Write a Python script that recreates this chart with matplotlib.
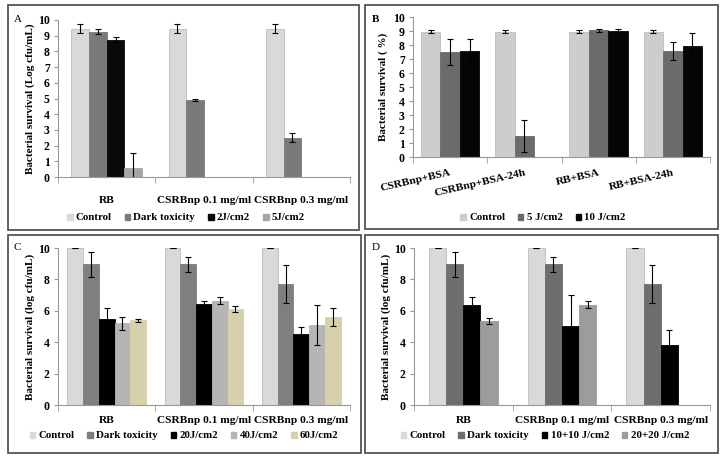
import numpy as np
import matplotlib
matplotlib.use('Agg')
import matplotlib.pyplot as plt
from matplotlib.patches import Patch, Rectangle

plt.rcParams['font.family'] = ['Liberation Serif', 'DejaVu Serif']
plt.rcParams['font.weight'] = 'bold'
plt.rcParams['axes.labelweight'] = 'bold'

nan = np.nan

# Panel A
a_groups = ['RB', 'CSRBnp 0.1 mg/ml', 'CSRBnp 0.3 mg/ml']
a_names = ['Control', 'Dark toxicity', '2J/cm2', '5J/cm2']
a_control = [9.45, 9.45, 9.45]
a_control_err = [0.3, 0.3, 0.3]
a_dark = [9.25, 4.9, 2.5]
a_dark_err = [0.15, 0.08, 0.3]
a_2j = [8.75, 0, 0]
a_2j_err = [0.15, nan, nan]
a_5j = [0.55, 0, 0]
a_5j_err = [0.95, nan, nan]

# Panel B
b_groups = ['CSRBnp+BSA', 'CSRBnp+BSA-24h', 'RB+BSA', 'RB+BSA-24h']
b_names = ['Control', '5 J/cm2', '10 J/cm2']
b_control = [8.95, 8.95, 8.95, 8.95]
b_control_err = [0.1, 0.1, 0.1, 0.1]
b_5j = [7.5, 1.5, 9.05, 7.6]
b_5j_err = [0.9, 1.15, 0.12, 0.65]
b_10j = [7.6, 0, 9.0, 7.9]
b_10j_err = [0.8, nan, 0.12, 0.95]

# Panel C
c_groups = ['RB', 'CSRBnp 0.1 mg/ml', 'CSRBnp 0.3 mg/ml']
c_names = ['Control', 'Dark toxicity', '20J/cm2', '40J/cm2', '60J/cm2']
c_control = [10, 10, 10]
c_control_err = [0.02, 0.02, 0.02]
c_dark = [8.95, 8.95, 7.7]
c_dark_err = [0.8, 0.45, 1.2]
c_20j = [5.5, 6.45, 4.5]
c_20j_err = [0.7, 0.15, 0.5]
c_40j = [5.2, 6.65, 5.1]
c_40j_err = [0.4, 0.2, 1.3]
c_60j = [5.4, 6.1, 5.6]
c_60j_err = [0.1, 0.2, 0.55]

# Panel D
d_groups = ['RB', 'CSRBnp 0.1 mg/ml', 'CSRBnp 0.3 mg/ml']
d_names = ['Control', 'Dark toxicity', '10+10 J/cm2', '20+20 J/cm2']
d_control = [10, 10, 10]
d_control_err = [0.02, 0.02, 0.02]
d_dark = [8.95, 8.95, 7.7]
d_dark_err = [0.8, 0.45, 1.2]
d_1010 = [6.4, 5.05, 3.8]
d_1010_err = [0.5, 1.95, 0.95]
d_2020 = [5.35, 6.4, 0]
d_2020_err = [0.2, 0.25, nan]

W, H = 726, 466
fig = plt.figure(figsize=(W / 100, H / 100), dpi=100)


def px(l, t, r, b):
    return [l / W, 1 - b / H, (r - l) / W, (b - t) / H]


def panel(rect, groups, series, errs, names, colors, gap, ymax, ystep, ylabel,
          letter, letter_xy, leg_xy, rot=0, xpad=14):
    ax = fig.add_axes(px(*rect))
    n = len(series)
    w = 1 / (n + gap)
    x = np.arange(len(groups))
    for k in range(n):
        pos = x + w * gap / 2 + w * (k + 0.5)
        ec = '#bdbdbd' if colors[k] in ('#d9d9d9', '#cdcdcd') else colors[k]
        ax.bar(pos, series[k], w, color=colors[k], edgecolor=ec, linewidth=0.6, zorder=2)
        ax.errorbar(pos, series[k], yerr=errs[k], fmt='none', ecolor='black',
                    elinewidth=0.8, capsize=2, capthick=0.8, zorder=3)
    ax.set_xlim(0, len(groups))
    ax.set_ylim(0, ymax)
    ax.set_yticks(np.arange(0, ymax + 0.01, ystep))
    ax.set_xticks(x + 0.5)
    ax.set_xticks(np.arange(len(groups) + 1), minor=True)
    if rot:
        ax.set_xticklabels(groups, fontsize=8.2, fontweight='bold', rotation=rot,
                           ha='right', rotation_mode='anchor')
    else:
        ax.set_xticklabels(groups, fontsize=8.2, fontweight='bold')
    for t in ax.get_yticklabels():
        t.set_fontweight('bold')
    ax.tick_params(axis='x', which='major', length=0, pad=xpad)
    ax.tick_params(axis='x', which='minor', length=4, color='#999999')
    ax.tick_params(axis='y', length=3, color='#999999', labelsize=8.5, pad=3)
    for s in ['top', 'right']:
        ax.spines[s].set_visible(False)
    for s in ['left', 'bottom']:
        ax.spines[s].set_color('#999999')
    ax.set_ylabel(ylabel, fontsize=8, fontweight='bold')
    handles = [Patch(facecolor=c, edgecolor=c) for c in colors]
    fig.legend(handles, names, loc='center', bbox_to_anchor=(leg_xy[0] / W, 1 - leg_xy[1] / H),
               ncol=len(names), frameon=False, prop={'size': 7.8, 'weight': 'bold'},
               handlelength=0.5, handleheight=0.5, handletextpad=0.3, columnspacing=1.2)
    fig.text(letter_xy[0] / W, 1 - letter_xy[1] / H, letter, fontsize=8,
             fontweight='normal' if letter in 'ACD' else 'bold', ha='center', va='center')
    return ax


axA = panel((58, 20, 350, 177), a_groups, [a_control, a_dark, a_2j, a_5j],
            [a_control_err, a_dark_err, a_2j_err, a_5j_err], a_names,
            ['#d9d9d9', '#7a7a7a', '#0a0a0a', '#a6a6a6'], 1.5, 10, 1,
            'Bacterial survival (Log cfu/mL)', 'A', (18, 20), (186, 218))
axA.yaxis.set_label_coords(-0.078, 0.5)

axB = panel((413, 17, 710, 157), b_groups, [b_control, b_5j, b_10j],
            [b_control_err, b_5j_err, b_10j_err], b_names,
            ['#cdcdcd', '#6b6b6b', '#050505'], 0.8, 10, 1,
            'Bacterial survival ( %)', 'B', (376, 20), (543, 218), rot=13, xpad=8)
axB.yaxis.set_label_coords(-0.085, 0.5)

axC = panel((58, 248, 350, 405), c_groups, [c_control, c_dark, c_20j, c_40j, c_60j],
            [c_control_err, c_dark_err, c_20j_err, c_40j_err, c_60j_err], c_names,
            ['#d9d9d9', '#7f7f7f', '#000000', '#b5b5b5', '#d6d1aa'], 1.2, 10, 2,
            'Bacterial survival (log cfu/mL)', 'C', (17, 247), (184, 436), xpad=8)
axC.yaxis.set_label_coords(-0.078, 0.5)

axD = panel((414, 248, 710, 405), d_groups, [d_control, d_dark, d_1010, d_2020],
            [d_control_err, d_dark_err, d_1010_err, d_2020_err], d_names,
            ['#d9d9d9', '#6e6e6e', '#000000', '#9c9c9c'], 1.75, 10, 2,
            'Bacterial survival (log cfu/mL)', 'D', (376, 247), (545, 436), xpad=8)
axD.yaxis.set_label_coords(-0.078, 0.5)

# panel frames
for l, t, r, b in [(8, 5, 359, 230), (365, 5, 718, 229), (8, 235, 361, 453), (365, 235, 718, 453)]:
    fig.add_artist(Rectangle((l / W, 1 - b / H), (r - l) / W, (b - t) / H,
                             transform=fig.transFigure, fill=False,
                             edgecolor='#555555', linewidth=1.3))

fig.savefig('out.png', dpi=100)
